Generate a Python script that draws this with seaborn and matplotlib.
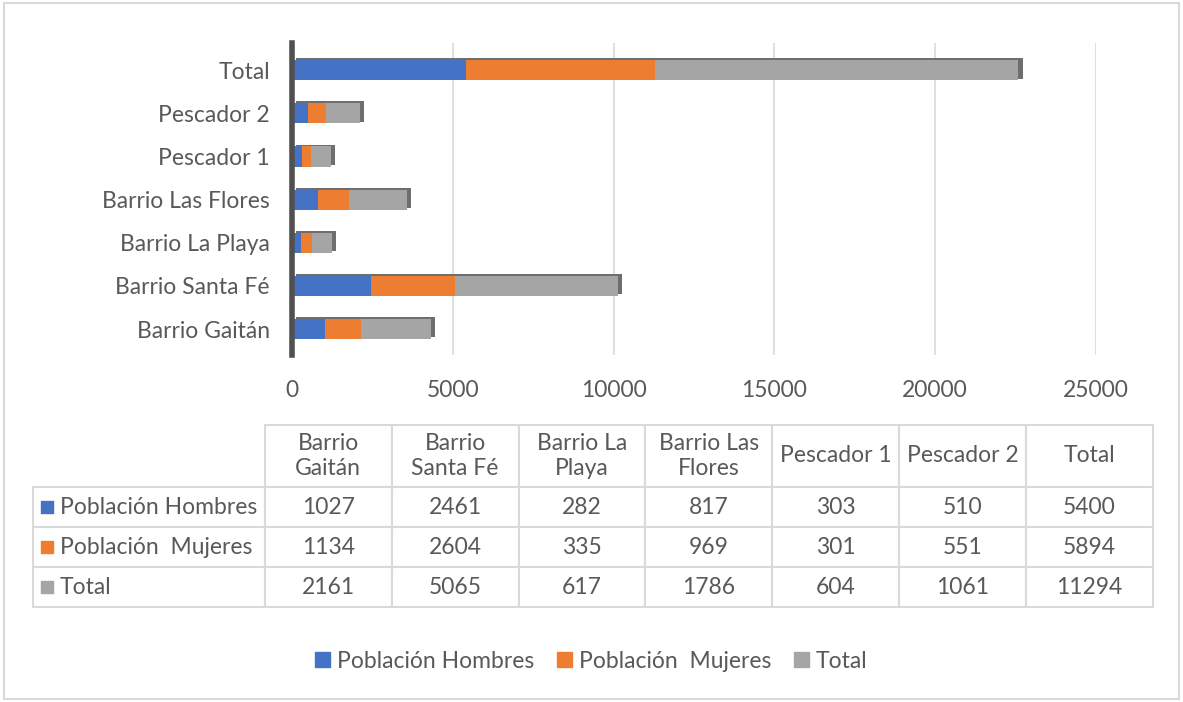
import textwrap
import matplotlib
matplotlib.use("Agg")
import matplotlib.pyplot as plt
import matplotlib.patheffects as pe
from matplotlib.patches import Patch, Rectangle
import seaborn as sns
import pandas as pd

categories = ["Barrio Gaitán", "Barrio Santa Fé", "Barrio La Playa", "Barrio Las Flores",
              "Pescador 1", "Pescador 2", "Total"]
hombres = [1027, 2461, 282, 817, 303, 510, 5400]
mujeres = [1134, 2604, 335, 969, 301, 551, 5894]
total = [2161, 5065, 617, 1786, 604, 1061, 11294]
series = ["Población Hombres", "Población  Mujeres", "Total"]

colors = ["#4472C4", "#ED7D31", "#A5A5A5"]
txt = "#595959"
fs = 16.5

sns.set_theme(style="white")
plt.rcParams["font.family"] = ["Lato", "DejaVu Sans"]

df = pd.DataFrame({"cat": categories, "h": hombres, "m": mujeres, "t": total})
df["hm"] = df["h"] + df["m"]
df["hmt"] = df["hm"] + df["t"]
order = categories[::-1]

fig = plt.figure(figsize=(11.83, 7.02), dpi=100)
W, H = 1183, 702
ax = fig.add_axes([292 / W, 1 - 355 / H, 804 / W, 312 / H])

# stacked bars: draw cumulative sums from longest to shortest
sns.barplot(data=df, y="cat", x="hmt", order=order, color=colors[2], width=0.47,
            saturation=1, linewidth=0, ax=ax)
for p in ax.patches:
    p.set_path_effects([pe.SimplePatchShadow(offset=(3, 1.3), shadow_rgbFace="#6e6e6e", alpha=1),
                        pe.Normal()])
sns.barplot(data=df, y="cat", x="hm", order=order, color=colors[1], width=0.47,
            saturation=1, linewidth=0, ax=ax)
sns.barplot(data=df, y="cat", x="h", order=order, color=colors[0], width=0.47,
            saturation=1, linewidth=0, ax=ax)

ax.set_xlim(0, 25000)
ax.set_xticks(range(0, 25001, 5000))
ax.set_ylim(6.6, -0.63)
ax.set_xlabel("")
ax.set_ylabel("")
ax.xaxis.grid(True, color="#d9d9d9", lw=1.2)
ax.set_axisbelow(True)
for s in ["top", "right", "bottom"]:
    ax.spines[s].set_visible(False)
ax.spines["left"].set_color("#505050")
ax.spines["left"].set_linewidth(4)
ax.tick_params(axis="y", length=0, pad=16, labelsize=fs, labelcolor=txt)
ax.tick_params(axis="x", length=0, pad=18, labelsize=fs, labelcolor=txt)

# data table
tax = fig.add_axes([33 / W, 1 - 607 / H, 1120 / W, 182 / H])
tax.axis("off")
headers = ["\n".join(textwrap.wrap(c, 10)) for c in categories]
cell_text = [[str(v) for v in hombres], [str(v) for v in mujeres], [str(v) for v in total]]
head_h, row_h, lab_w, col_w = 62, 40, 232, 127
tot_h = head_h + 3 * row_h
tot_w = lab_w + 7 * col_w
# bbox only covers the data grid; row label cells are added to its left
tbl = tax.table(cellText=cell_text, colLabels=headers, cellLoc="center",
                bbox=[lab_w / tot_w, 0, 1 - lab_w / tot_w, 1])
for i, lab in enumerate(series):
    tbl.add_cell(i + 1, -1, width=lab_w / tot_w, height=row_h / tot_h, text=lab, loc="left")
tbl.auto_set_font_size(False)
for (r, c), cell in tbl.get_celld().items():
    cell.set_edgecolor("#d9d9d9")
    cell.set_linewidth(1.5)
    cell.set_width((lab_w if c == -1 else col_w) / tot_w)
    cell.set_height((head_h if r == 0 else row_h) / tot_h)
    cell.get_text().set_color(txt)
    cell.get_text().set_fontsize(fs)
    if c == -1:
        cell.PAD = 0.115
for i, col in enumerate(colors):
    yc = 1 - (head_h + row_h * (i + 0.5)) / tot_h
    tax.scatter([14 / tot_w], [yc], marker="s", s=75, color=col, transform=tax.transAxes,
                clip_on=False, zorder=5)

fig.legend(handles=[Patch(color=c, label=l) for c, l in zip(colors, series)],
           loc="center", bbox_to_anchor=(0.5, 1 - 661 / H), ncol=3, frameon=False,
           fontsize=fs, handlelength=0.65, handleheight=0.65, columnspacing=1.0,
           handletextpad=0.3, labelcolor=txt)

fig.patches.append(Rectangle((0.003, 0.004), 0.994, 0.992, transform=fig.transFigure,
                             fill=False, edgecolor="#d9d9d9", lw=1.5))

fig.savefig("out.png", dpi=100)
